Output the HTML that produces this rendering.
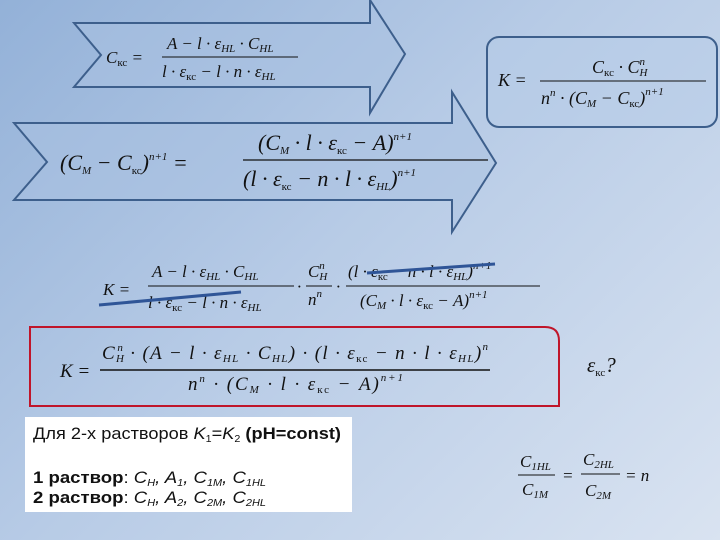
<!DOCTYPE html>
<html><head><meta charset="utf-8"><style>
html,body{margin:0;padding:0}
body{width:720px;height:540px;overflow:hidden;background:linear-gradient(135deg,#93b1d8 0%,#b7cbe6 45%,#d9e3f1 100%);font-family:"Liberation Serif",serif}
svg{position:absolute;left:0;top:0}
.m{font-family:"Liberation Serif",serif;font-style:italic;font-size:17px;fill:#111}
.u{font-style:normal}
.s{font-size:11px}
.b{font-family:"Liberation Sans",sans-serif;font-size:17px;fill:#111;font-style:normal}
</style></head><body>
<svg width="720" height="540" viewBox="0 0 720 540">
<polygon points="74,23 370,23 370,0 405,54 370,113 370,87 74,87 101,55" fill="#a9c1e2" fill-opacity="0.5" stroke="#3d5f8c" stroke-width="2"/>
<polygon points="14,123 452,123 452,92 496,163 452,232 452,200 14,200 47,162" fill="#a9c1e2" fill-opacity="0.5" stroke="#3d5f8c" stroke-width="2"/>
<rect x="487" y="37" width="230" height="90" rx="12" fill="#b6cbe7" fill-opacity="0.5" stroke="#3d5f8c" stroke-width="2"/>
<path d="M30,327 H545 Q559,327 559,341 V406 H30 Z" fill="none" stroke="#c0152a" stroke-width="2"/>
<rect x="25" y="417" width="327" height="95" fill="#fff"/>

<g class="m">
<text x="106" y="63">C<tspan class="s u" dy="3">кс</tspan><tspan dy="-3"> =</tspan></text>
<text x="167" y="49">A − l · ε<tspan class="s" dy="3">HL</tspan><tspan dy="-3"> · C</tspan><tspan class="s" dy="3">HL</tspan></text>
<line x1="162" y1="57" x2="298" y2="57" stroke="#111" stroke-width="1"/>
<text x="162" y="77">l · ε<tspan class="s u" dy="3">кс</tspan><tspan dy="-3"> − l · n · ε</tspan><tspan class="s" dy="3">HL</tspan></text>
</g>
<g class="m" style="font-size:22px">
<text x="60" y="170">(C<tspan class="s" dy="4">M</tspan><tspan dy="-4"> − C</tspan><tspan class="s u" dy="4">кс</tspan><tspan dy="-4">)</tspan><tspan class="s" dy="-10">n+1</tspan><tspan dy="10"> =</tspan></text>
<text x="258" y="150">(C<tspan class="s" dy="4">M</tspan><tspan dy="-4"> · l · ε</tspan><tspan class="s u" dy="4">кс</tspan><tspan dy="-4"> − A)</tspan><tspan class="s" dy="-10">n+1</tspan></text>
<line x1="243" y1="160" x2="488" y2="160" stroke="#111" stroke-width="1.2"/>
<text x="243" y="186">(l · ε<tspan class="s u" dy="4">кс</tspan><tspan dy="-4"> − n · l · ε</tspan><tspan class="s" dy="4">HL</tspan><tspan dy="-4">)</tspan><tspan class="s" dy="-10">n+1</tspan></text>
</g>
<g class="m" style="font-size:18px">
<text x="498" y="86">K =</text>
<text x="592" y="73">C<tspan class="s u" dy="3">кс</tspan><tspan dy="-3"> · C</tspan><tspan class="s" dy="3">H</tspan><tspan class="s" dx="-8" dy="-11">n</tspan></text>
<line x1="540" y1="81" x2="706" y2="81" stroke="#111"/>
<text x="541" y="104">n<tspan class="s" dy="-8">n</tspan><tspan dy="8"> · (C</tspan><tspan class="s" dy="3">M</tspan><tspan dy="-3"> − C</tspan><tspan class="s u" dy="3">кс</tspan><tspan dy="-3">)</tspan><tspan class="s" dy="-9">n+1</tspan></text>
</g>
<g class="m">
<text x="103" y="295">K =</text>
<text x="152" y="277">A − l · ε<tspan class="s" dy="3">HL</tspan><tspan dy="-3"> · C</tspan><tspan class="s" dy="3">HL</tspan></text>
<line x1="148" y1="286" x2="294" y2="286" stroke="#111"/>
<text x="148" y="308">l · ε<tspan class="s u" dy="3">кс</tspan><tspan dy="-3"> − l · n · ε</tspan><tspan class="s" dy="3">HL</tspan></text>
<text x="297" y="292">·</text>
<text x="308" y="277">C<tspan class="s" dy="3">H</tspan><tspan class="s" dx="-8" dy="-11">n</tspan></text>
<line x1="306" y1="286" x2="332" y2="286" stroke="#111"/>
<text x="308" y="305">n<tspan class="s" dy="-8">n</tspan></text>
<text x="336" y="292">·</text>
<text x="348" y="277">(l · ε<tspan class="s u" dy="3">кс</tspan><tspan dy="-3"> − n · l · ε</tspan><tspan class="s" dy="3">HL</tspan><tspan dy="-3">)</tspan><tspan class="s" dy="-8">n+1</tspan></text>
<line x1="346" y1="286" x2="540" y2="286" stroke="#111"/>
<text x="360" y="306">(C<tspan class="s" dy="3">M</tspan><tspan dy="-3"> · l · ε</tspan><tspan class="s u" dy="3">кс</tspan><tspan dy="-3"> − A)</tspan><tspan class="s" dy="-8">n+1</tspan></text>
</g>
<line x1="99" y1="305" x2="241" y2="292" stroke="#2f5597" stroke-width="3"/>
<line x1="367" y1="273" x2="495" y2="264" stroke="#2f5597" stroke-width="3"/>
<g class="m" style="font-size:19px">
<text x="60" y="377">K =</text>
<text x="102" y="359" textLength="386" lengthAdjust="spacing">C<tspan class="s" dy="3">H</tspan><tspan class="s" dx="-8" dy="-11">n</tspan><tspan dy="8"> · (A − l · ε</tspan><tspan class="s" dy="3">HL</tspan><tspan dy="-3"> · C</tspan><tspan class="s" dy="3">HL</tspan><tspan dy="-3">) · (l · ε</tspan><tspan class="s u" dy="3">кс</tspan><tspan dy="-3"> − n · l · ε</tspan><tspan class="s" dy="3">HL</tspan><tspan dy="-3">)</tspan><tspan class="s" dy="-9">n</tspan></text>
<line x1="100" y1="370" x2="490" y2="370" stroke="#111" stroke-width="1.5"/>
<text x="188" y="390" textLength="215" lengthAdjust="spacing">n<tspan class="s" dy="-8">n</tspan><tspan dy="8"> · (C</tspan><tspan class="s" dy="3">M</tspan><tspan dy="-3"> · l · ε</tspan><tspan class="s u" dy="3">кс</tspan><tspan dy="-3"> − A)</tspan><tspan class="s" dy="-9">n+1</tspan></text>
<text x="587" y="372" style="font-size:21px">ε<tspan class="s u" dy="4">кс</tspan><tspan dy="-4">?</tspan></text>
</g>
<text class="b" x="33" y="439" textLength="308" lengthAdjust="spacingAndGlyphs">Для 2-х растворов <tspan font-style="italic">K</tspan><tspan font-size="10" dy="3">1</tspan><tspan dy="-3">=</tspan><tspan font-style="italic">K</tspan><tspan font-size="10" dy="3">2</tspan><tspan dy="-3">  </tspan><tspan font-weight="bold">(pH=const)</tspan></text>
<text class="b" x="33" y="483" textLength="233" lengthAdjust="spacingAndGlyphs"><tspan font-weight="bold">1 раствор</tspan>: <tspan font-style="italic">C<tspan font-size="10" dy="3">H</tspan><tspan dy="-3">, A</tspan><tspan font-size="10" dy="3">1</tspan><tspan dy="-3">, C</tspan><tspan font-size="10" dy="3">1M</tspan><tspan dy="-3">, C</tspan><tspan font-size="10" dy="3">1HL</tspan></tspan></text>
<text class="b" x="33" y="503" textLength="233" lengthAdjust="spacingAndGlyphs"><tspan font-weight="bold">2 раствор</tspan>: <tspan font-style="italic">C<tspan font-size="10" dy="3">H</tspan><tspan dy="-3">, A</tspan><tspan font-size="10" dy="3">2</tspan><tspan dy="-3">, C</tspan><tspan font-size="10" dy="3">2M</tspan><tspan dy="-3">, C</tspan><tspan font-size="10" dy="3">2HL</tspan></tspan></text>
<g class="m">
<text x="520" y="467">C<tspan class="s" dy="3">1HL</tspan></text>
<line x1="518" y1="475" x2="555" y2="475" stroke="#111"/>
<text x="522" y="495">C<tspan class="s" dy="3">1M</tspan></text>
<text x="562" y="481">=</text>
<text x="583" y="465">C<tspan class="s" dy="3">2HL</tspan></text>
<line x1="581" y1="474" x2="620" y2="474" stroke="#111"/>
<text x="585" y="496">C<tspan class="s" dy="3">2M</tspan></text>
<text x="625" y="481">= n</text>
</g>
</svg>
</body></html>
